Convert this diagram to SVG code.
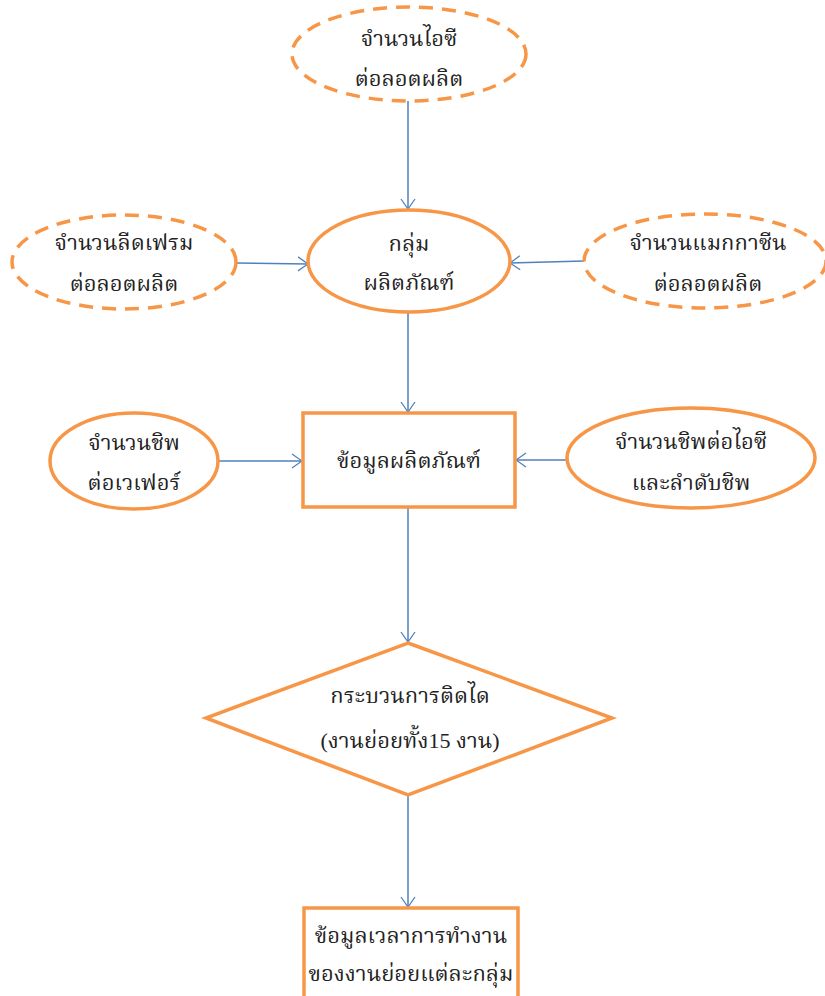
<svg xmlns="http://www.w3.org/2000/svg" width="825" height="996" viewBox="0 0 825 996">
<defs>
<marker id="arr" viewBox="0 0 12 16" refX="11" refY="8" markerWidth="12" markerHeight="16" markerUnits="userSpaceOnUse" orient="auto">
<path d="M1,1 L11,8 L1,15" fill="none" stroke="#4F81BD" stroke-width="1.3"/>
</marker>
</defs>
<style>
.n{fill:#ffffff;stroke:#F79646;stroke-width:3.5}
.d{stroke-dasharray:14 9}
.c{fill:none;stroke:#4F81BD;stroke-width:1.5;marker-end:url(#arr)}
text{font-family:"Liberation Serif","Noto Serif Thai","Noto Sans Thai","DejaVu Serif",serif;font-size:22px;fill:#222;text-anchor:middle}
</style>
<rect width="825" height="996" fill="#ffffff"/>
<g id="connectors">
<line class="c" x1="408" y1="101" x2="408" y2="209"/>
<line class="c" x1="237" y1="263" x2="308" y2="264"/>
<line class="c" x1="584" y1="261" x2="510" y2="263"/>
<line class="c" x1="408" y1="312" x2="408" y2="412"/>
<line class="c" x1="218" y1="461" x2="302" y2="461"/>
<line class="c" x1="567" y1="460" x2="516" y2="460"/>
<line class="c" x1="408" y1="508" x2="408" y2="642"/>
<line class="c" x1="408" y1="796" x2="408" y2="907"/>
</g>
<g id="n_ic">
<ellipse class="n d" cx="409" cy="54" rx="117" ry="47"/>
<text x="409" y="46">จำนวนไอซี</text>
<text x="409" y="86">ต่อลอตผลิต</text>
</g>
<g id="n_leadframe">
<ellipse class="n d" cx="124" cy="262" rx="112" ry="47"/>
<text x="124" y="250">จำนวนลีดเฟรม</text>
<text x="124" y="291">ต่อลอตผลิต</text>
</g>
<g id="n_group">
<ellipse class="n" cx="409" cy="261" rx="101" ry="51"/>
<text x="409" y="251">กลุ่ม</text>
<text x="409" y="290">ผลิตภัณฑ์</text>
</g>
<g id="n_magazine">
<ellipse class="n d" cx="705" cy="261" rx="121" ry="47"/>
<text x="708" y="250">จำนวนแมกกาซีน</text>
<text x="708" y="291">ต่อลอตผลิต</text>
</g>
<g id="n_chipwafer">
<ellipse class="n" cx="134" cy="461" rx="84" ry="48"/>
<text x="134" y="450">จำนวนชิพ</text>
<text x="134" y="490">ต่อเวเฟอร์</text>
</g>
<g id="n_product">
<rect class="n" x="303" y="413" width="212" height="94"/>
<text x="409" y="468">ข้อมูลผลิตภัณฑ์</text>
</g>
<g id="n_chipic">
<ellipse class="n" cx="691" cy="458" rx="124" ry="50"/>
<text x="691" y="449">จำนวนชิพต่อไอซี</text>
<text x="691" y="490">และลำดับชิพ</text>
</g>
<g id="n_process">
<polygon class="n" points="408,643 612,718 408,795 206,718"/>
<text x="410" y="703">กระบวนการติดได</text>
<text x="410" y="748">(งานย่อยทั้ง15 งาน)</text>
</g>
<g id="n_time">
<rect class="n" x="304" y="908" width="214" height="100"/>
<text x="411" y="943">ข้อมูลเวลาการทำงาน</text>
<text x="411" y="981">ของงานย่อยแต่ละกลุ่ม</text>
</g>
</svg>
